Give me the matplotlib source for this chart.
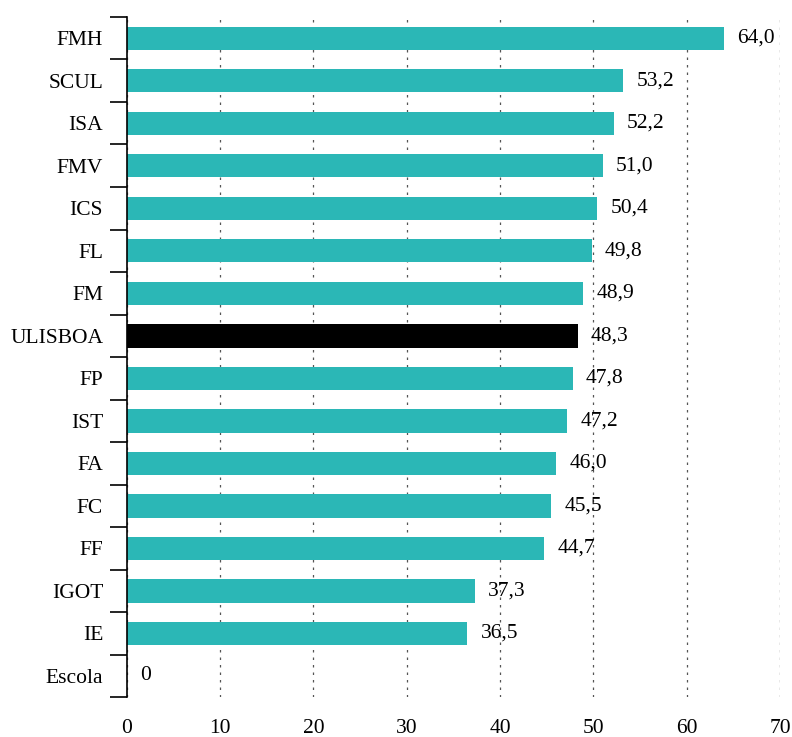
import matplotlib.pyplot as plt
import numpy as np

# Data, top to bottom as shown
schools = ['FMH', 'SCUL', 'ISA', 'FMV', 'ICS', 'FL', 'FM', 'ULISBOA',
           'FP', 'IST', 'FA', 'FC', 'FF', 'IGOT', 'IE', 'Escola']
values = [64.0, 53.2, 52.2, 51.0, 50.4, 49.8, 48.9, 48.3,
          47.8, 47.2, 46.0, 45.5, 44.7, 37.3, 36.5, 0]
highlight = 'ULISBOA'

teal = '#2bb7b6'
plt.rcParams['font.family'] = ['Liberation Serif', 'DejaVu Serif']

fig = plt.figure(figsize=(7.92, 7.37), dpi=100)
ax = fig.add_axes([0.160, 0.054, 0.825, 0.923])

n = len(schools)
ypos = np.arange(n)
colors = ['black' if s == highlight else teal for s in schools]
ax.barh(ypos, values, height=0.55, color=colors, zorder=2)

# value labels with comma decimal
for y, v in zip(ypos, values):
    txt = '0' if v == 0 else f'{v:.1f}'.replace('.', ',')
    ax.annotate(txt, (v, y), xytext=(9.5, 0), textcoords='offset points',
                va='center', ha='left', fontsize=15.5)

ax.set_xlim(0, 70)
ax.set_ylim(n - 0.5, -0.5)
ax.set_xticks(np.arange(0, 71, 10))
ax.xaxis.grid(True, linestyle=(0, (2, 4)), color='#555555', linewidth=0.9)
ax.set_axisbelow(True)

ax.set_yticks(ypos)
ax.set_yticklabels(schools)
ax.set_yticks(np.arange(-0.5, n, 1), minor=True)
ax.tick_params(axis='y', which='major', length=0, pad=17, labelsize=15.5)
ax.tick_params(axis='y', which='minor', length=12, width=1.2, direction='out')
ax.tick_params(axis='x', length=0, pad=16, labelsize=15.5)

for side in ['top', 'right', 'bottom']:
    ax.spines[side].set_visible(False)
ax.spines['left'].set_linewidth(1.2)

fig.savefig('out.png', dpi=100)
